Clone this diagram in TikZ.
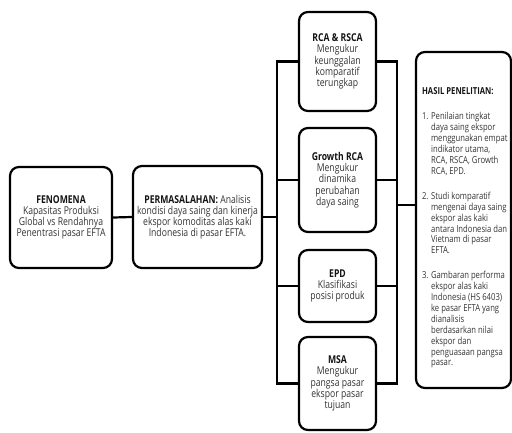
\documentclass[tikz,border=0pt]{standalone}
\usepackage{fontspec}
\setmainfont{Open Sans}[FakeStretch=0.8]
\newcommand{\itm}[1]{\makebox[9pt][l]{#1}}
\newcommand{\ind}{\hspace*{9pt}}
\begin{document}
\begin{tikzpicture}[x=1pt,y=-1pt,
  box/.style={draw=black, line width=2.2pt, rounded corners=9pt, align=center,
    inner sep=2pt, font=\fontsize{10.8}{11.2}\selectfont, text=black!80},
  listtext/.style={align=left, inner sep=0pt, anchor=north west,
    font=\fontsize{9.6}{10.9}\selectfont, text=black!80},
  conn/.style={draw=black, line width=2.2pt}]
\useasboundingbox (0,0) rectangle (512,432);
\newcommand{\tl}[1]{\textbf{\color{black!92}#1}}
\node[box, minimum width=102pt, minimum height=101pt] (fen) at (61,217.5)
  {\tl{FENOMENA}\\Kapasitas Produksi\\Global vs Rendahnya\\Penentrasi pasar EFTA};
\node[box, minimum width=129pt, minimum height=102pt] (perm) at (197.5,217)
  {\tl{PERMASALAHAN:} Analisis\\kondisi daya saing dan kinerja\\ekspor komoditas alas kaki\\Indonesia di pasar EFTA.};
\node[box, minimum width=77pt, minimum height=99pt] (rca) at (337.5,61.5)
  {\tl{RCA \& RSCA}\\Mengukur\\keunggalan\\komparatif\\terungkap};
\node[box, minimum width=77pt, minimum height=104pt] (grow) at (337.5,180)
  {\tl{Growth RCA}\\Mengukur\\dinamika\\perubahan\\daya saing};
\node[box, minimum width=77pt, minimum height=72pt] (epd) at (337.5,286)
  {\tl{EPD}\\Klasifikasi\\posisi produk};
\node[box, minimum width=77pt, minimum height=93pt] (msa) at (337.5,383.5)
  {\tl{MSA}\\Mengukur\\pangsa pasar\\ekspor pasar\\tujuan};
\node[box, minimum width=95pt, minimum height=336pt] (hasil) at (463.5,220) {};
\node[listtext] (hasiltxt) at ([xshift=7pt,yshift=-36pt]hasil.north west)
  {\tl{HASIL PENELITIAN:}\\[15pt]
   \itm{1.}Penilaian tingkat\\
   \ind daya saing ekspor\\
   \ind menggunakan empat\\
   \ind indikator utama,\\
   \ind RCA, RSCA, Growth\\
   \ind RCA, EPD.\\[14pt]
   \itm{2.}Studi komparatif\\
   \ind mengenai daya saing\\
   \ind ekspor alas kaki\\
   \ind antara Indonesia dan\\
   \ind Vietnam di pasar\\
   \ind EFTA.\\[14pt]
   \itm{3.}Gambaran performa\\
   \ind ekspor alas kaki\\
   \ind Indonesia (HS 6403)\\
   \ind ke pasar EFTA yang\\
   \ind dianalisis\\
   \ind berdasarkan nilai\\
   \ind ekspor dan\\
   \ind penguasaan pangsa\\
   \ind pasar.};
\coordinate (bl) at (277,0);
\coordinate (br) at (397,0);
\draw[conn] (fen.east) -- (perm.west);
\draw[conn] (perm.east) -- (perm.east -| bl);
\draw[conn] (rca.west) -- (rca.west -| bl) -- (msa.west -| bl) -- (msa.west);
\draw[conn] (grow.west) -- (grow.west -| bl);
\draw[conn] (epd.west) -- (epd.west -| bl);
\draw[conn] (rca.east) -- (rca.east -| br) -- (msa.east -| br) -- (msa.east);
\draw[conn] (grow.east) -- (grow.east -| br);
\draw[conn] (epd.east) -- (epd.east -| br);
\coordinate (hj) at (397,205);
\draw[conn] (hj) -- (hj -| hasil.west);
\end{tikzpicture}
\end{document}
